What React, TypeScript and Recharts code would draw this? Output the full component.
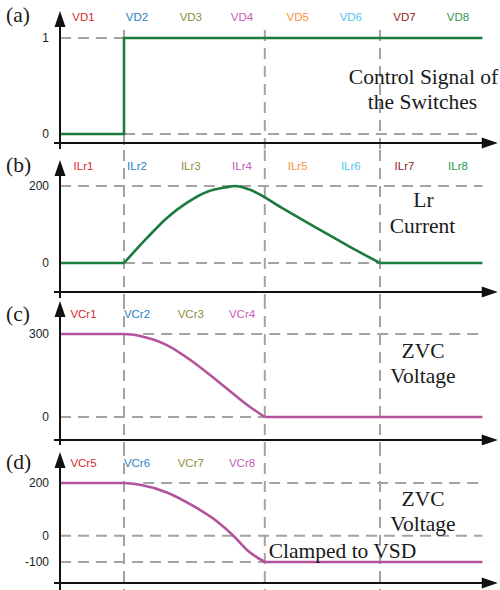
import React from 'react';
import { LineChart, Line, XAxis, YAxis, ReferenceLine, ReferenceDot } from 'recharts';

// ---------- data ----------
const switchTimes = [1, 3.2, 5];
const labelT = [0.367, 1.203, 2.044, 2.844, 3.714, 4.544, 5.383, 6.219];
const labelColors = ['#d7282f', '#2b7fc4', '#8e8d3c', '#c45cb5', '#f5923e', '#55c3ef', '#8e1f26', '#2e9a50'];

const vdLabels = ['VD1', 'VD2', 'VD3', 'VD4', 'VD5', 'VD6', 'VD7', 'VD8'];
const ilrLabels = ['ILr1', 'ILr2', 'ILr3', 'ILr4', 'ILr5', 'ILr6', 'ILr7', 'ILr8'];
const vcrLabelsC = ['VCr1', 'VCr2', 'VCr3', 'VCr4'];
const vcrLabelsD = ['VCr5', 'VCr6', 'VCr7', 'VCr8'];

const ticksA = [0, 1];
const ticksB = [0, 200];
const ticksC = [0, 300];
const ticksD = [-100, 0, 200];

// control signal (step)
const ctrlT = [0, 1, 1, 6.6];
const ctrlV = [0, 0, 1, 1];

// Lr current
const ilrFlat1T = [0, 1];
const ilrFlat1V = [0, 0];
const ilrCurveT = [1, 1.36, 1.67, 1.98, 2.3, 2.61, 2.73, 2.97, 3.48, 4.02, 4.53, 5];
const ilrCurveV = [0, 65, 117, 156, 185, 197, 200, 190, 142, 90, 42, 0];
const ilrFlat2T = [5, 6.6];
const ilrFlat2V = [0, 0];

// ZVC voltage (c)
const vcCurveT = [0, 1, 1.25, 1.67, 2.08, 2.5, 2.97, 3.2];
const vcCurveV = [300, 300, 293, 260, 199, 123, 36, 0];
const vcFlatT = [3.2, 6.6];
const vcFlatV = [0, 0];

// ZVC voltage (d)
const vdCurveT = [0, 1, 1.25, 1.67, 2.08, 2.45, 2.7, 2.94, 3.2];
const vdCurveV = [200, 200, 193, 164, 113, 55, 2, -58, -100];
const vdFlatT = [3.2, 6.6];
const vdFlatV = [-100, -100];

// ---------- layout ----------
const W = 500;
const X_MIN = -0.09375;
const X_MAX = 6.875;
const T_END = 6.6;
const X_TIP = 6.84;
const GREEN = '#1b7a3e';
const PURPLE = '#b2539c';
const DASH = '#a3a3a3';
const AXIS = '#111';

const zip = (t: number[], v: number[]) => t.map((x, i) => ({ t: x, v: v[i] }));

type Seg = { t: number[]; v: number[]; type: 'linear' | 'monotone' };
type HL = { v: number; from: number; to: number };
type VSeg = { t: number; fromPx: number; toPx: number };

interface PanelProps {
  top: number;
  height: number;
  v1: number; p1: number;
  v2: number; p2: number;
  ticks: number[];
  segs: Seg[];
  color: string;
  labels: string[];
  labelY: number;
  xAxisPx: number;
  tipPx: number;
  yBottomPx: number;
  hLines: HL[];
  vLines: VSeg[];
}

function Panel(p: PanelProps) {
  const k = (p.p2 - p.p1) / (p.v1 - p.v2);
  const val = (px: number) => p.v1 - (px - p.p1) / k;
  const domain: [number, number] = [val(p.height), val(0)];
  const xAxisV = val(p.xAxisPx);
  const ticksT = labelT.slice(0, p.labels.length);

  const LabelTick = (props: any) => {
    const i = ticksT.findIndex((x) => Math.abs(x - props.payload.value) < 1e-6);
    if (i < 0) return <g />;
    return (
      <text x={props.x} y={p.labelY} textAnchor="middle" fontSize={11.5}
        fontFamily="'Liberation Sans', Arial, sans-serif" fill={labelColors[i]}>
        {p.labels[i]}
      </text>
    );
  };

  return (
    <div style={{ position: 'absolute', left: 0, top: p.top }}>
      <LineChart width={W} height={p.height} margin={{ top: 0, right: 0, bottom: -2, left: 0 }}>
        <XAxis dataKey="t" type="number" domain={[X_MIN, X_MAX]} allowDataOverflow
          ticks={ticksT} interval={0} axisLine={false} tickLine={false} height={2}
          tick={LabelTick} />
        <YAxis type="number" domain={domain} allowDataOverflow ticks={p.ticks} width={54}
          axisLine={false} tickLine={false} tickSize={0} tickMargin={5} interval={0}
          tick={{ fontSize: 12, fill: '#222', fontFamily: "'Liberation Sans', Arial, sans-serif" }} />
        {p.vLines.map((l, i) => (
          <ReferenceLine key={'v' + i} segment={[{ x: l.t, y: val(l.fromPx) }, { x: l.t, y: val(l.toPx) }]}
            stroke={DASH} strokeWidth={2} strokeDasharray="11 7" ifOverflow="visible" />
        ))}
        {p.hLines.map((l, i) => (
          <ReferenceLine key={'h' + i} segment={[{ x: l.from, y: l.v }, { x: l.to, y: l.v }]}
            stroke={DASH} strokeWidth={2} strokeDasharray="11 7" ifOverflow="visible" />
        ))}
        {p.segs.map((s, i) => (
          <Line key={'s' + i} data={zip(s.t, s.v)} dataKey="v" type={s.type} stroke={p.color}
            strokeWidth={2.6} dot={false} activeDot={false} isAnimationActive={false} />
        ))}
        <ReferenceLine segment={[{ x: X_MIN, y: xAxisV }, { x: X_TIP - 14 / 64, y: xAxisV }]}
          stroke={AXIS} strokeWidth={2} ifOverflow="visible" />
        <ReferenceLine segment={[{ x: 0, y: val(p.yBottomPx) }, { x: 0, y: val(p.tipPx + 14) }]}
          stroke={AXIS} strokeWidth={2} ifOverflow="visible" />
        <ReferenceDot x={X_TIP} y={xAxisV} r={5} ifOverflow="visible"
          shape={(d: any) => (
            <polygon points={`${d.cx},${d.cy} ${d.cx - 16},${d.cy - 5.5} ${d.cx - 16},${d.cy + 5.5}`} fill={AXIS} />
          )} />
        <ReferenceDot x={0} y={val(p.tipPx)} r={5} ifOverflow="visible"
          shape={(d: any) => (
            <polygon points={`${d.cx},${d.cy} ${d.cx - 5.5},${d.cy + 16} ${d.cx + 5.5},${d.cy + 16}`} fill={AXIS} />
          )} />
      </LineChart>
    </div>
  );
}

const serif = "'Liberation Serif', 'Times New Roman', serif";

export default function App() {
  return (
    <div style={{ position: 'absolute', left: 0, top: 0, width: 500, height: 590, background: '#fff', overflow: 'hidden' }}>
      <Panel top={0} height={150} v1={1} p1={38} v2={0} p2={134} ticks={ticksA}
        segs={[{ t: ctrlT, v: ctrlV, type: 'linear' }]} color={GREEN}
        labels={vdLabels} labelY={20.5} xAxisPx={143} tipPx={11} yBottomPx={149}
        hLines={[{ v: 1, from: 0, to: 1 }, { v: 0, from: 1, to: T_END }]}
        vLines={[
          { t: switchTimes[0], fromPx: 30, toPx: 38 },
          { t: switchTimes[0], fromPx: 134, toPx: 150 },
          { t: switchTimes[1], fromPx: 30, toPx: 150 },
          { t: switchTimes[2], fromPx: 30, toPx: 150 },
        ]} />
      <Panel top={150} height={148} v1={200} p1={36} v2={0} p2={113} ticks={ticksB}
        segs={[
          { t: ilrFlat1T, v: ilrFlat1V, type: 'linear' },
          { t: ilrCurveT, v: ilrCurveV, type: 'monotone' },
          { t: ilrFlat2T, v: ilrFlat2V, type: 'linear' },
        ]} color={GREEN}
        labels={ilrLabels} labelY={20} xAxisPx={142} tipPx={10} yBottomPx={148}
        hLines={[{ v: 200, from: 0, to: T_END }, { v: 0, from: 1, to: 5 }]}
        vLines={switchTimes.map((t) => ({ t, fromPx: 0, toPx: 148 }))} />
      <Panel top={298} height={147} v1={300} p1={36} v2={0} p2={119} ticks={ticksC}
        segs={[
          { t: vcCurveT, v: vcCurveV, type: 'monotone' },
          { t: vcFlatT, v: vcFlatV, type: 'linear' },
        ]} color={PURPLE}
        labels={vcrLabelsC} labelY={20.3} xAxisPx={142} tipPx={3} yBottomPx={147}
        hLines={[{ v: 300, from: 1.3, to: T_END }, { v: 0, from: 0, to: 3.2 }]}
        vLines={switchTimes.map((t) => ({ t, fromPx: 0, toPx: 147 }))} />
      <Panel top={445} height={145} v1={200} p1={38} v2={-100} p2={117} ticks={ticksD}
        segs={[
          { t: vdCurveT, v: vdCurveV, type: 'monotone' },
          { t: vdFlatT, v: vdFlatV, type: 'linear' },
        ]} color={PURPLE}
        labels={vcrLabelsD} labelY={21.7} xAxisPx={138} tipPx={7} yBottomPx={145}
        hLines={[{ v: 200, from: 1.3, to: T_END }, { v: 0, from: 0, to: T_END }, { v: -100, from: 0, to: 3.2 }]}
        vLines={switchTimes.map((t) => ({ t, fromPx: 0, toPx: 145 }))} />
      <svg width={500} height={590} style={{ position: 'absolute', left: 0, top: 0, pointerEvents: 'none' }}>
        <g fontFamily={serif} fontSize={21.5} fill="#1a1a1a">
          <text x={6} y={21.5}>(a)</text>
          <text x={6} y={171.5}>(b)</text>
          <text x={6} y={321}>(c)</text>
          <text x={6} y={469}>(d)</text>
          <text x={423.5} y={84} textAnchor="middle">Control Signal of</text>
          <text x={422.5} y={109} textAnchor="middle">the Switches</text>
          <text x={423.5} y={206.5} textAnchor="middle">Lr</text>
          <text x={422.5} y={232.5} textAnchor="middle">Current</text>
          <text x={423} y={358.3} textAnchor="middle">ZVC</text>
          <text x={423} y={382.7} textAnchor="middle">Voltage</text>
          <text x={423} y={506} textAnchor="middle">ZVC</text>
          <text x={423} y={530.7} textAnchor="middle">Voltage</text>
          <text x={342.5} y={558.3} textAnchor="middle">Clamped to VSD</text>
        </g>
      </svg>
    </div>
  );
}
